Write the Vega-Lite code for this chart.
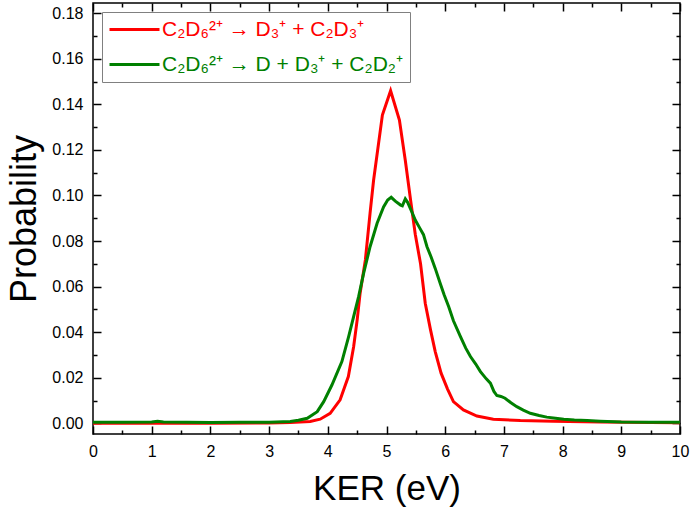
{
  "$schema": "https://vega.github.io/schema/vega-lite/v6.json",
  "width": 587,
  "height": 431,
  "autosize": {"type": "none"},
  "padding": {"left": 93, "top": 3, "right": 12, "bottom": 80},
  "background": "white",
  "config": {
    "view": {"stroke": "black", "strokeWidth": 1.5},
    "font": "Liberation Sans",
    "axis": {
      "grid": false,
      "domain": false,
      "tickColor": "black",
      "tickWidth": 1.5,
      "labelColor": "black",
      "labelFont": "Liberation Sans",
      "labelFontSize": 16,
      "labelFlush": false,
      "labelOverlap": false,
      "titleFont": "Liberation Sans",
      "titleFontWeight": "normal",
      "titleColor": "black"
    }
  },
  "data": {
    "values": [
      {"ker": 0, "prob": 0.0, "s": "a"},
      {"ker": 1, "prob": 0.0, "s": "a"},
      {"ker": 2, "prob": 0.0, "s": "a"},
      {"ker": 3, "prob": 0.0001, "s": "a"},
      {"ker": 3.36, "prob": 0.0003, "s": "a"},
      {"ker": 3.7, "prob": 0.0008, "s": "a"},
      {"ker": 3.87, "prob": 0.0018, "s": "a"},
      {"ker": 4.04, "prob": 0.0044, "s": "a"},
      {"ker": 4.21, "prob": 0.0103, "s": "a"},
      {"ker": 4.35, "prob": 0.0205, "s": "a"},
      {"ker": 4.44, "prob": 0.0336, "s": "a"},
      {"ker": 4.5, "prob": 0.0453, "s": "a"},
      {"ker": 4.55, "prob": 0.057, "s": "a"},
      {"ker": 4.64, "prob": 0.0717, "s": "a"},
      {"ker": 4.72, "prob": 0.0923, "s": "a"},
      {"ker": 4.78, "prob": 0.1067, "s": "a"},
      {"ker": 4.93, "prob": 0.1353, "s": "a"},
      {"ker": 5.07, "prob": 0.146, "s": "a"},
      {"ker": 5.22, "prob": 0.1331, "s": "a"},
      {"ker": 5.32, "prob": 0.1155, "s": "a"},
      {"ker": 5.41, "prob": 0.098, "s": "a"},
      {"ker": 5.49, "prob": 0.083, "s": "a"},
      {"ker": 5.58, "prob": 0.07, "s": "a"},
      {"ker": 5.66, "prob": 0.0527, "s": "a"},
      {"ker": 5.75, "prob": 0.041, "s": "a"},
      {"ker": 5.83, "prob": 0.0315, "s": "a"},
      {"ker": 5.93, "prob": 0.022, "s": "a"},
      {"ker": 6.04, "prob": 0.015, "s": "a"},
      {"ker": 6.14, "prob": 0.0095, "s": "a"},
      {"ker": 6.31, "prob": 0.0059, "s": "a"},
      {"ker": 6.54, "prob": 0.0032, "s": "a"},
      {"ker": 6.82, "prob": 0.0018, "s": "a"},
      {"ker": 7.28, "prob": 0.0012, "s": "a"},
      {"ker": 7.84, "prob": 0.0009, "s": "a"},
      {"ker": 8.64, "prob": 0.0006, "s": "a"},
      {"ker": 9.5, "prob": 0.0003, "s": "a"},
      {"ker": 10, "prob": 0.0002, "s": "a"},
      {"ker": 0, "prob": 0.0005, "s": "b"},
      {"ker": 0.5, "prob": 0.0005, "s": "b"},
      {"ker": 1.0, "prob": 0.0006, "s": "b"},
      {"ker": 1.1, "prob": 0.0009, "s": "b"},
      {"ker": 1.2, "prob": 0.0006, "s": "b"},
      {"ker": 2.0, "prob": 0.0004, "s": "b"},
      {"ker": 2.5, "prob": 0.0005, "s": "b"},
      {"ker": 3.0, "prob": 0.0005, "s": "b"},
      {"ker": 3.36, "prob": 0.0008, "s": "b"},
      {"ker": 3.5, "prob": 0.0013, "s": "b"},
      {"ker": 3.65, "prob": 0.0022, "s": "b"},
      {"ker": 3.82, "prob": 0.0051, "s": "b"},
      {"ker": 3.93, "prob": 0.0095, "s": "b"},
      {"ker": 4.07, "prob": 0.0168, "s": "b"},
      {"ker": 4.24, "prob": 0.0271, "s": "b"},
      {"ker": 4.355, "prob": 0.038, "s": "b"},
      {"ker": 4.44, "prob": 0.0468, "s": "b"},
      {"ker": 4.525, "prob": 0.0556, "s": "b"},
      {"ker": 4.61, "prob": 0.0658, "s": "b"},
      {"ker": 4.72, "prob": 0.0775, "s": "b"},
      {"ker": 4.84, "prob": 0.0878, "s": "b"},
      {"ker": 4.95, "prob": 0.095, "s": "b"},
      {"ker": 5.02, "prob": 0.098, "s": "b"},
      {"ker": 5.08, "prob": 0.0992, "s": "b"},
      {"ker": 5.15, "prob": 0.0975, "s": "b"},
      {"ker": 5.24, "prob": 0.0958, "s": "b"},
      {"ker": 5.27, "prob": 0.0955, "s": "b"},
      {"ker": 5.32, "prob": 0.0985, "s": "b"},
      {"ker": 5.36, "prob": 0.097, "s": "b"},
      {"ker": 5.43, "prob": 0.0929, "s": "b"},
      {"ker": 5.49, "prob": 0.0892, "s": "b"},
      {"ker": 5.56, "prob": 0.086, "s": "b"},
      {"ker": 5.63, "prob": 0.0828, "s": "b"},
      {"ker": 5.69, "prob": 0.0775, "s": "b"},
      {"ker": 5.76, "prob": 0.073, "s": "b"},
      {"ker": 5.83, "prob": 0.068, "s": "b"},
      {"ker": 5.92, "prob": 0.061, "s": "b"},
      {"ker": 5.98, "prob": 0.0565, "s": "b"},
      {"ker": 6.06, "prob": 0.0512, "s": "b"},
      {"ker": 6.14, "prob": 0.045, "s": "b"},
      {"ker": 6.26, "prob": 0.038, "s": "b"},
      {"ker": 6.35, "prob": 0.033, "s": "b"},
      {"ker": 6.43, "prob": 0.0293, "s": "b"},
      {"ker": 6.52, "prob": 0.026, "s": "b"},
      {"ker": 6.6, "prob": 0.0227, "s": "b"},
      {"ker": 6.7, "prob": 0.0195, "s": "b"},
      {"ker": 6.77, "prob": 0.0176, "s": "b"},
      {"ker": 6.83, "prob": 0.014, "s": "b"},
      {"ker": 6.88, "prob": 0.0122, "s": "b"},
      {"ker": 6.95, "prob": 0.0118, "s": "b"},
      {"ker": 7.02, "prob": 0.011, "s": "b"},
      {"ker": 7.12, "prob": 0.009, "s": "b"},
      {"ker": 7.22, "prob": 0.0073, "s": "b"},
      {"ker": 7.33, "prob": 0.0058, "s": "b"},
      {"ker": 7.45, "prob": 0.0044, "s": "b"},
      {"ker": 7.6, "prob": 0.0034, "s": "b"},
      {"ker": 7.73, "prob": 0.0027, "s": "b"},
      {"ker": 7.88, "prob": 0.0022, "s": "b"},
      {"ker": 8.02, "prob": 0.0018, "s": "b"},
      {"ker": 8.2, "prob": 0.0014, "s": "b"},
      {"ker": 8.42, "prob": 0.0012, "s": "b"},
      {"ker": 8.64, "prob": 0.0009, "s": "b"},
      {"ker": 9.0, "prob": 0.0006, "s": "b"},
      {"ker": 9.5, "prob": 0.0005, "s": "b"},
      {"ker": 10, "prob": 0.0005, "s": "b"}
    ]
  },
  "resolve": {"axis": {"x": "independent", "y": "independent"}},
  "layer": [
    {
      "mark": {"type": "line", "strokeWidth": 3, "clip": true},
      "encoding": {
        "x": {
          "field": "ker",
          "type": "quantitative",
          "scale": {"domain": [0, 10], "nice": false, "zero": false},
          "axis": {
            "orient": "bottom",
            "values": [0, 1, 2, 3, 4, 5, 6, 7, 8, 9, 10],
            "format": "d",
            "tickSize": -8,
            "labelPadding": 17,
            "title": "KER (eV)",
            "titleFontSize": 35,
            "titlePadding": 12
          }
        },
        "y": {
          "field": "prob",
          "type": "quantitative",
          "scale": {"domain": [-0.0047, 0.1845], "nice": false, "zero": false},
          "axis": {
            "orient": "left",
            "values": [0, 0.02, 0.04, 0.06, 0.08, 0.1, 0.12, 0.14, 0.16, 0.18],
            "format": ".2f",
            "tickSize": -8,
            "labelPadding": 18,
            "title": "Probability",
            "titleFontSize": 36,
            "titlePadding": 8
          }
        },
        "color": {
          "field": "s",
          "type": "nominal",
          "scale": {"domain": ["a", "b"], "range": ["#ff0000", "#008000"]},
          "legend": {
            "orient": "top-left",
            "offset": 9,
            "title": null,
            "labelExpr": "datum.value == 'a' ? 'C₂D₆²⁺ → D₃⁺ + C₂D₃⁺' : 'C₂D₆²⁺ → D + D₃⁺ + C₂D₂⁺'",
            "strokeColor": "#808080",
            "fillColor": "white",
            "padding": 7,
            "symbolType": "M-2,0H8",
            "symbolSize": 100,
            "symbolStrokeWidth": 3,
            "labelFont": "Liberation Sans",
            "labelFontSize": 21,
            "labelOffset": 32,
            "labelLimit": 400,
            "rowPadding": 13,
            "encode": {
              "labels": {"update": {"fill": {"scale": "color", "field": "value"}}}
            }
          }
        }
      }
    },
    {
      "mark": {"type": "line", "opacity": 0},
      "encoding": {
        "x": {
          "field": "ker",
          "type": "quantitative",
          "axis": {
            "orient": "bottom",
            "values": [0.5, 1.5, 2.5, 3.5, 4.5, 5.5, 6.5, 7.5, 8.5, 9.5],
            "tickSize": -4,
            "labels": false,
            "title": null
          }
        },
        "y": {
          "field": "prob",
          "type": "quantitative",
          "axis": {
            "orient": "left",
            "values": [0.01, 0.03, 0.05, 0.07, 0.09, 0.11, 0.13, 0.15, 0.17],
            "tickSize": -4,
            "labels": false,
            "title": null
          }
        },
        "detail": {"field": "s"}
      }
    },
    {
      "mark": {"type": "line", "opacity": 0},
      "encoding": {
        "x": {
          "field": "ker",
          "type": "quantitative",
          "axis": {
            "orient": "top",
            "values": [0, 1, 2, 3, 4, 5, 6, 7, 8, 9, 10],
            "tickSize": -8,
            "labels": false,
            "title": null
          }
        },
        "y": {
          "field": "prob",
          "type": "quantitative",
          "axis": {
            "orient": "right",
            "values": [0, 0.02, 0.04, 0.06, 0.08, 0.1, 0.12, 0.14, 0.16, 0.18],
            "tickSize": -8,
            "labels": false,
            "title": null
          }
        },
        "detail": {"field": "s"}
      }
    },
    {
      "mark": {"type": "line", "opacity": 0},
      "encoding": {
        "x": {
          "field": "ker",
          "type": "quantitative",
          "axis": {
            "orient": "top",
            "values": [0.5, 1.5, 2.5, 3.5, 4.5, 5.5, 6.5, 7.5, 8.5, 9.5],
            "tickSize": -4,
            "labels": false,
            "title": null
          }
        },
        "y": {
          "field": "prob",
          "type": "quantitative",
          "axis": {
            "orient": "right",
            "values": [0.01, 0.03, 0.05, 0.07, 0.09, 0.11, 0.13, 0.15, 0.17],
            "tickSize": -4,
            "labels": false,
            "title": null
          }
        },
        "detail": {"field": "s"}
      }
    }
  ]
}
